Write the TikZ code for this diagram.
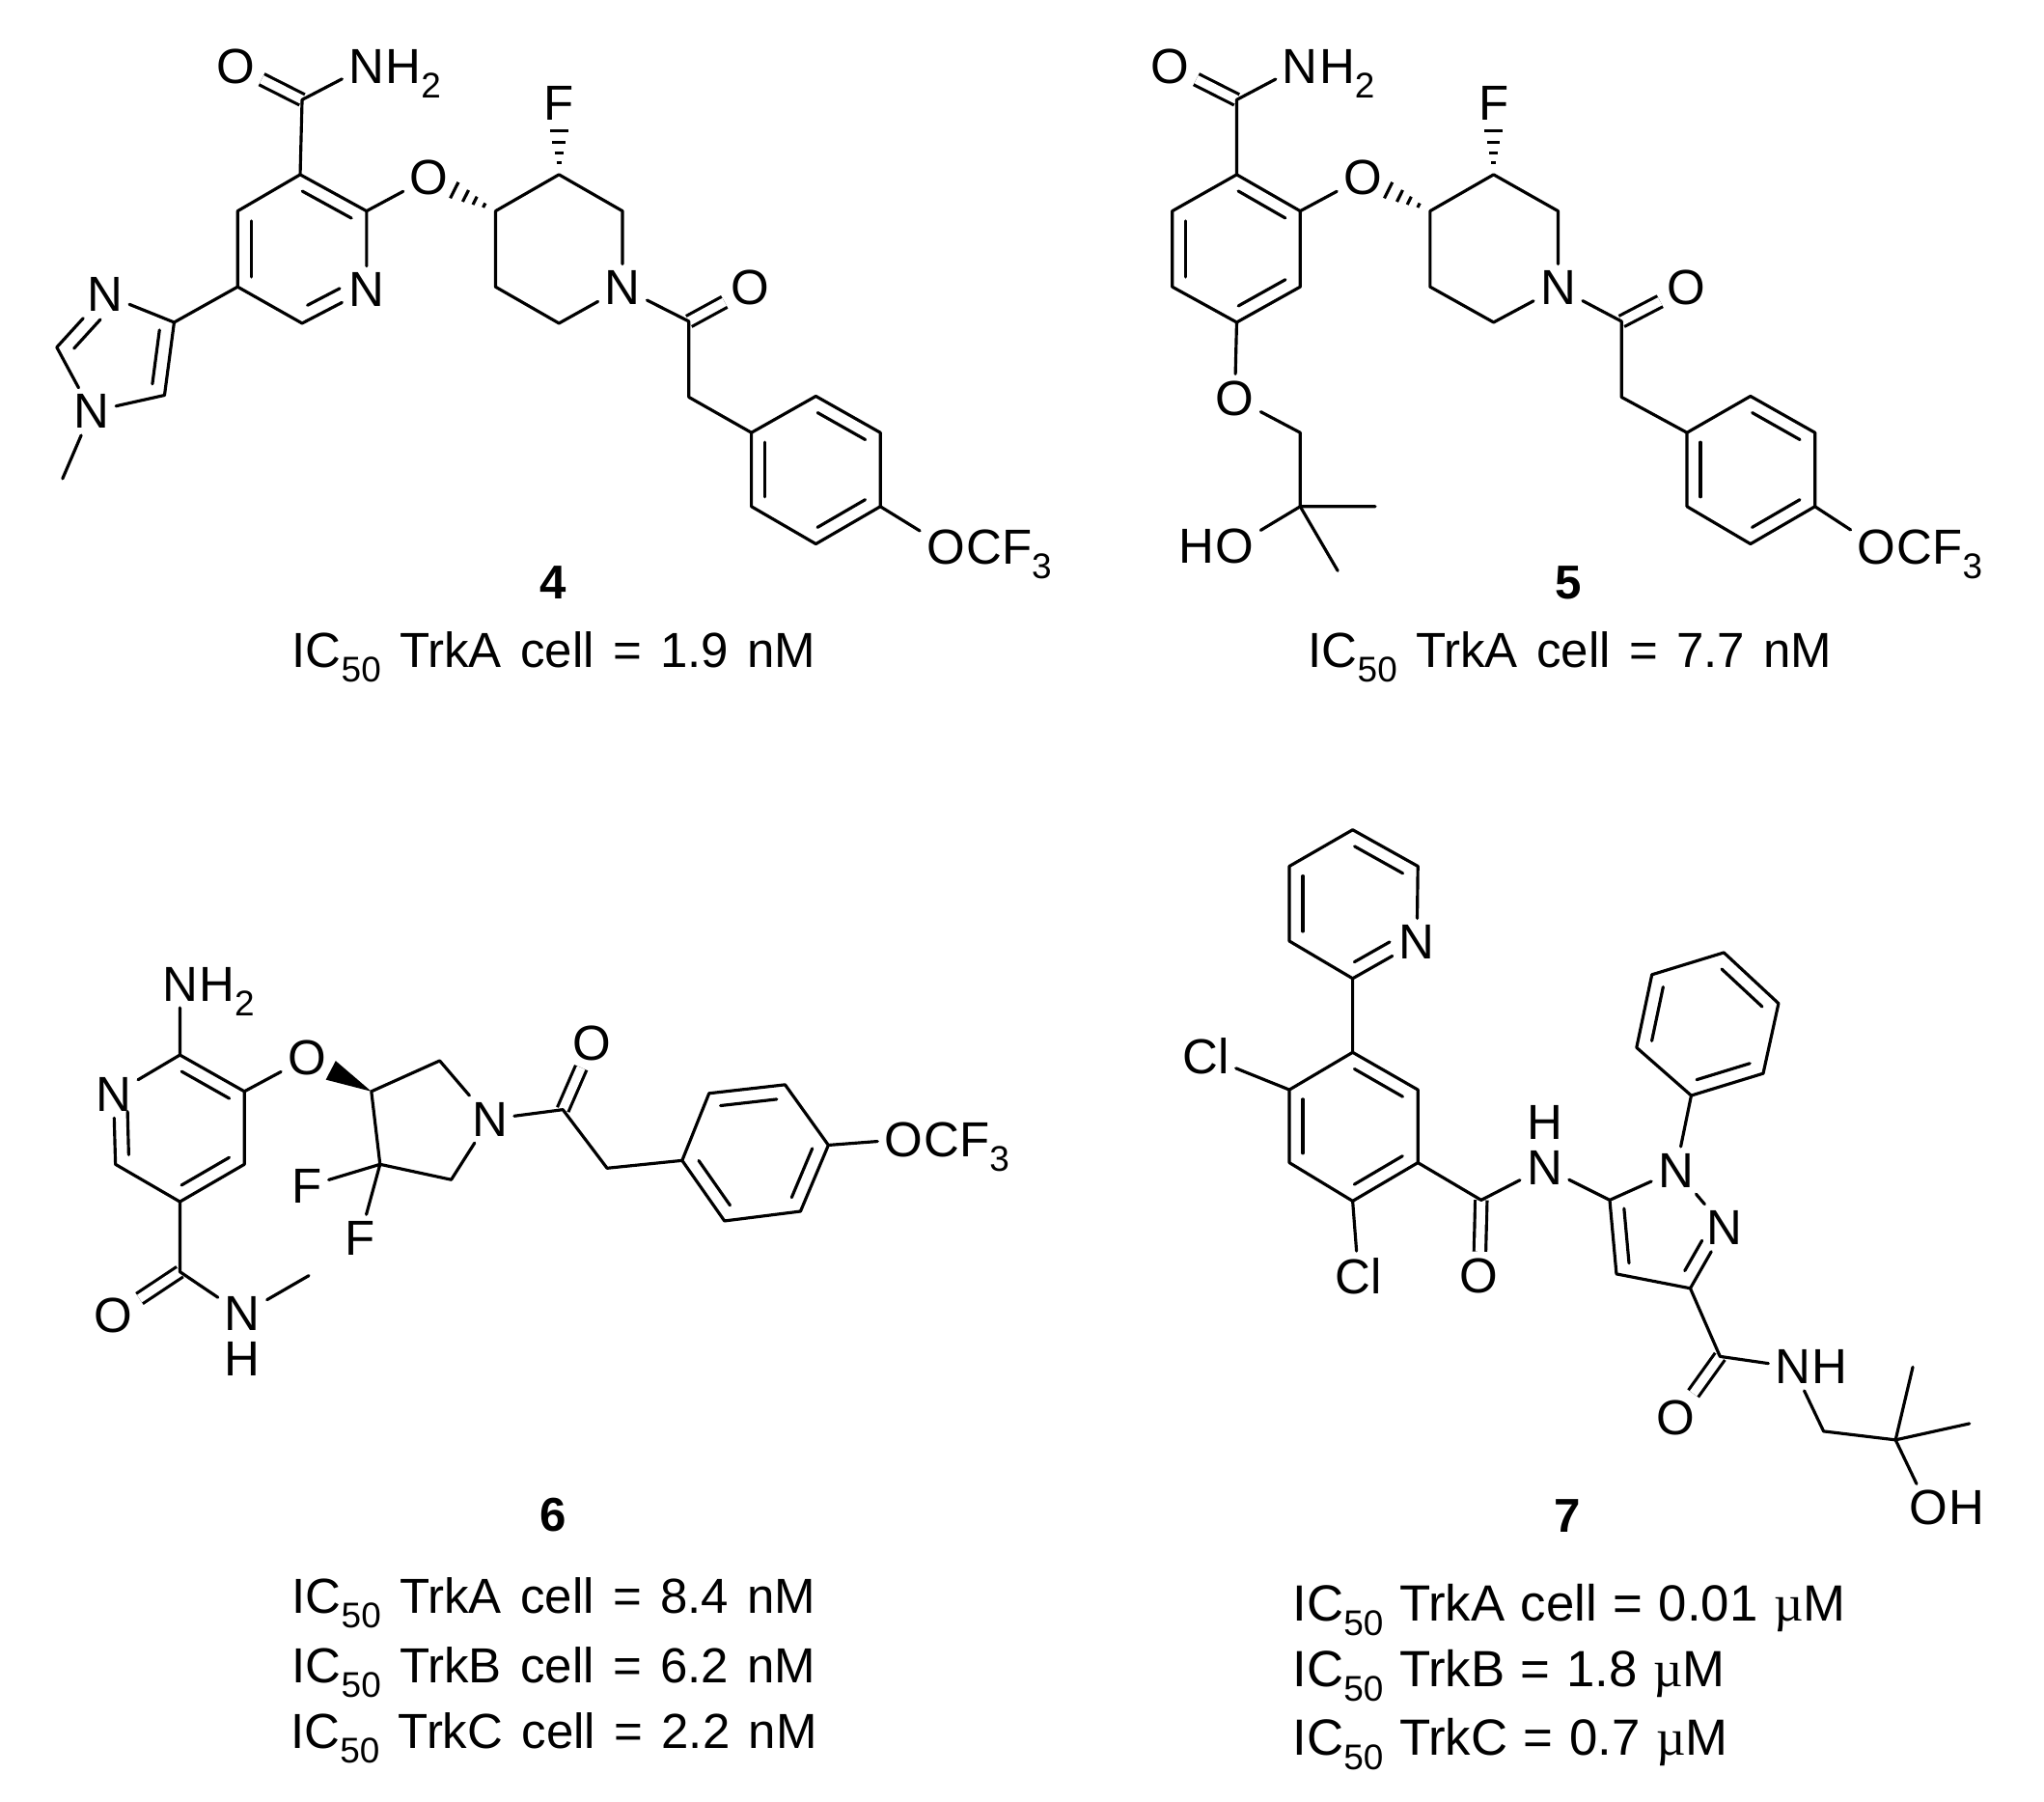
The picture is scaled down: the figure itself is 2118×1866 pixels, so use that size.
\documentclass[tikz,border=0pt]{standalone}
\usepackage{fontspec}
\setmainfont{Liberation Sans}
\newfontfamily\muserif{Liberation Serif}
\usetikzlibrary{calc}

\newcommand{\dbloff}{1.4mm}
\newcommand{\lowsub}[2]{\raisebox{-.3em}{\fontsize{#1}{#1}\selectfont #2}}
\newcommand{\atomsub}[1]{\lowsub{10.5}{#1}}
\newcommand{\capsub}[1]{\lowsub{10.5}{#1}}
\newcommand{\capfont}{\fontsize{14.5}{17}\selectfont\spaceskip 5.5pt\relax}
\newcommand{\bigcapfont}{\fontsize{15}{18}\selectfont\spaceskip 4.7pt\relax}

\tikzset{
	bond/.style={line width=.9pt, line cap=round, line join=round},
	dblbond/.style={line width=.9pt, double, double distance=2.6pt},
	hash/.style={line width=.9pt},
	atom/.style={inner sep=1.8pt, font=\fontsize{14.5}{16}\selectfont},
	tail/.style={inner sep=0pt, anchor=base west, xshift=-1.8pt, font=\fontsize{14.5}{16}\selectfont},
	head/.style={inner sep=0pt, anchor=base east, xshift=1.8pt, font=\fontsize{14.5}{16}\selectfont},
	cpdnum/.style={inner sep=0pt, anchor=base, font=\fontsize{14}{16}\selectfont\bfseries},
	caption/.style={inner sep=0pt, anchor=base, font=\capfont},
	bigcaption/.style={inner sep=0pt, anchor=base west, font=\bigcapfont},
	drawing/.style={x=.00996cm, y=-.00994cm}
}

% parallel stroke on the left of a -> b
\newcommand{\innerpart}[4]{\draw[bond] ($(#1)!#3!(#2)!\dbloff!90:(#2)$) -- ($(#1)!#4!(#2)!\dbloff!90:(#2)$);}
\newcommand{\innerbond}[2]{\innerpart{#1}{#2}{.13}{.87}}
\newcommand{\hashbond}[2]{\foreach \hs in {.17,.31,.45,.62} \draw[hash] ($(#1)!\hs!(#2)!\hs*1.5mm!90:(#2)$) -- ($(#1)!\hs!(#2)!-\hs*1.5mm!90:(#2)$);}
\newcommand{\wedgebond}[2]{\fill ($(#1)$) -- ($(#2)!.37!(#1)!1.1mm!90:(#1)$) -- ($(#2)!.37!(#1)!-1.1mm!90:(#1)$) -- cycle;}

\begin{document}
\begin{tikzpicture}[x=.01cm, y=-.01cm]
	\useasboundingbox (0,0) rectangle (2118,1866);

	% compound 4
	\begin{scope}[drawing]
	\node [atom] (o4a) at (245,69) {O};
	\node [atom] (n4a) at (381,69) {N};
	\node [tail] (h4a) at (n4a.base east) {H\atomsub{2}};
	\coordinate (co4a) at (314,104);
	\coordinate (py4a) at (312,182);
	\coordinate (py4b) at (381,220);
	\node [atom] (py4n) at (381,302) {N};
	\coordinate (py4d) at (314,337);
	\coordinate (py4e) at (247,299);
	\coordinate (py4f) at (247,220);
	\node [atom] (o4b) at (446,185) {O};
	\coordinate (pip4a) at (515,220);
	\coordinate (pip4b) at (581,182);
	\node [atom] (f4a) at (581,108) {F};
	\coordinate (pip4c) at (647,220);
	\node [atom] (pip4n) at (647,300) {N};
	\coordinate (pip4d) at (581,337);
	\coordinate (pip4e) at (515,299);
	\coordinate (co4b) at (716,335);
	\node [atom] (o4c) at (780,300) {O};
	\coordinate (ch4a) at (716,414);
	\coordinate (ph4a) at (781,451);
	\coordinate (ph4b) at (781,528);
	\coordinate (ph4c) at (848,567);
	\coordinate (ph4d) at (915,528);
	\coordinate (ph4e) at (915,451);
	\coordinate (ph4f) at (848,413);
	\node [atom] (o4d) at (983,570) {O};
	\node [tail] (cf4a) at (o4d.base east) {CF\atomsub{3}};
	\coordinate (im4a) at (181,336);
	\node [atom] (im4n) at (109,307) {N};
	\coordinate (im4b) at (59,362);
	\node [atom] (im4m) at (95,429) {N};
	\coordinate (im4c) at (171,412);
	\coordinate (me4a) at (65,499);

	\draw [dblbond] (co4a) -- (o4a);
	\draw [dblbond] (co4b) -- (o4c);
	\draw [bond] (n4a) -- (co4a) -- (py4a) -- (py4b) -- (py4n) -- (py4d) -- (py4e) -- (py4f) -- (py4a);
	\draw [bond] (py4b) -- (o4b);
	\draw [bond] (pip4a) -- (pip4b) -- (pip4c) -- (pip4n) -- (pip4d) -- (pip4e) -- (pip4a);
	\draw [bond] (pip4n) -- (co4b) -- (ch4a) -- (ph4a) -- (ph4b) -- (ph4c) -- (ph4d) -- (ph4e) -- (ph4f) -- (ph4a);
	\draw [bond] (ph4d) -- (o4d);
	\draw [bond] (py4e) -- (im4a) -- (im4n) -- (im4b) -- (im4m) -- (im4c) -- (im4a);
	\draw [bond] (im4m) -- (me4a);
	\innerbond{py4b}{py4a}
	\innerbond{py4f}{py4e}
	\innerpart{py4d}{py4n}{.18}{.68}
	\innerbond{ph4a}{ph4b}
	\innerbond{ph4c}{ph4d}
	\innerbond{ph4e}{ph4f}
	\innerpart{im4n}{im4b}{.3}{.85}
	\innerbond{im4c}{im4a}
	\hashbond{pip4b}{f4a}
	\hashbond{pip4a}{o4b}
	\end{scope}
	\node [cpdnum] (num4) at (573,620) {4};
	\node [caption] (cap4) at (574,691) {IC\capsub{50} TrkA cell = 1.9 nM};

	% compound 5
	\begin{scope}[shift={(4.4,0)}, drawing]
	\node [atom] (o5a) at (1212,69) {O};
	\node [atom] (n5a) at (1347,69) {N};
	\node [tail] (h5a) at (n5a.base east) {H\atomsub{2}};
	\coordinate (co5a) at (1281,104);
	\coordinate (ar5a) at (1281,182);
	\coordinate (ar5b) at (1214,220);
	\coordinate (ar5c) at (1214,299);
	\coordinate (ar5d) at (1281,336);
	\coordinate (ar5e) at (1347,299);
	\coordinate (ar5f) at (1347,220);
	\node [atom] (o5b) at (1412,185) {O};
	\node [atom] (o5e) at (1279,415) {O};
	\coordinate (ch5b) at (1347,451);
	\coordinate (cq5) at (1347,528);
	\coordinate (me5a) at (1425,528);
	\coordinate (me5b) at (1386,595);
	\node [atom] (o5f) at (1279,569) {O};
	\node [head] (h5f) at (o5f.base west) {H};
	\coordinate (pip5a) at (1482,220);
	\coordinate (pip5b) at (1548,182);
	\node [atom] (f5a) at (1548,108) {F};
	\coordinate (pip5c) at (1615,220);
	\node [atom] (pip5n) at (1615,300) {N};
	\coordinate (pip5d) at (1548,336);
	\coordinate (pip5e) at (1482,299);
	\coordinate (co5b) at (1681,335);
	\node [atom] (o5c) at (1748,300) {O};
	\coordinate (ch5a) at (1681,414);
	\coordinate (ph5a) at (1749,451);
	\coordinate (ph5b) at (1749,528);
	\coordinate (ph5c) at (1815,567);
	\coordinate (ph5d) at (1882,528);
	\coordinate (ph5e) at (1882,451);
	\coordinate (ph5f) at (1815,413);
	\node [atom] (o5d) at (1946,570) {O};
	\node [tail] (cf5a) at (o5d.base east) {CF\atomsub{3}};

	\draw [dblbond] (co5a) -- (o5a);
	\draw [dblbond] (co5b) -- (o5c);
	\draw [bond] (n5a) -- (co5a) -- (ar5a) -- (ar5b) -- (ar5c) -- (ar5d) -- (ar5e) -- (ar5f) -- (ar5a);
	\draw [bond] (ar5f) -- (o5b);
	\draw [bond] (ar5d) -- (o5e) -- (ch5b) -- (cq5) -- (me5a);
	\draw [bond] (cq5) -- (me5b);
	\draw [bond] (cq5) -- (o5f);
	\draw [bond] (pip5a) -- (pip5b) -- (pip5c) -- (pip5n) -- (pip5d) -- (pip5e) -- (pip5a);
	\draw [bond] (pip5n) -- (co5b) -- (ch5a) -- (ph5a) -- (ph5b) -- (ph5c) -- (ph5d) -- (ph5e) -- (ph5f) -- (ph5a);
	\draw [bond] (ph5d) -- (o5d);
	\innerbond{ar5f}{ar5a}
	\innerbond{ar5b}{ar5c}
	\innerbond{ar5d}{ar5e}
	\innerbond{ph5a}{ph5b}
	\innerbond{ph5c}{ph5d}
	\innerbond{ph5e}{ph5f}
	\hashbond{pip5b}{f5a}
	\hashbond{pip5a}{o5b}
	\end{scope}
	\node [cpdnum] (num5) at (1625,620) {5};
	\node [caption] (cap5) at (1627,691) {IC\capsub{50} TrkA cell = 7.7 nM};

	% compound 6
	\begin{scope}[shift={(0,5.7)}, drawing]
	\node [atom] (n6a) at (187,1020) {N};
	\node [tail] (h6a) at (n6a.base east) {H\atomsub{2}};
	\coordinate (py6a) at (187,1094);
	\node [atom] (py6n) at (118,1135) {N};
	\coordinate (py6b) at (120,1208);
	\coordinate (py6c) at (187,1247);
	\coordinate (py6d) at (254,1208);
	\coordinate (py6e) at (254,1132);
	\node [atom] (o6a) at (319,1097) {O};
	\coordinate (pyr6a) at (386,1132);
	\coordinate (pyr6b) at (457,1100);
	\node [atom] (pyr6n) at (509,1161) {N};
	\coordinate (pyr6c) at (469,1224);
	\coordinate (pyr6d) at (395,1208);
	\node [atom] (f6a) at (319,1231) {F};
	\node [atom] (f6b) at (374,1285) {F};
	\coordinate (co6a) at (585,1151);
	\node [atom] (o6b) at (615,1082) {O};
	\coordinate (ch6a) at (631,1212);
	\coordinate (ph6a) at (709,1204);
	\coordinate (ph6b) at (753,1267);
	\coordinate (ph6c) at (832,1257);
	\coordinate (ph6d) at (861,1188);
	\coordinate (ph6e) at (816,1125);
	\coordinate (ph6f) at (737,1134);
	\node [atom] (o6c) at (939,1182) {O};
	\node [tail] (cf6a) at (o6c.base east) {CF\atomsub{3}};
	\coordinate (co6b) at (187,1320);
	\node [atom] (o6d) at (118,1366) {O};
	\node [atom] (n6b) at (252,1364) {N};
	\node [atom] (h6b) at (252,1411) {H};
	\coordinate (me6a) at (321,1324);

	\draw [dblbond] (co6a) -- (o6b);
	\draw [dblbond] (co6b) -- (o6d);
	\draw [bond] (n6a) -- (py6a) -- (py6n) -- (py6b) -- (py6c) -- (py6d) -- (py6e) -- (py6a);
	\draw [bond] (py6e) -- (o6a);
	\draw [bond] (pyr6a) -- (pyr6b) -- (pyr6n) -- (pyr6c) -- (pyr6d) -- (pyr6a);
	\draw [bond] (pyr6d) -- (f6a);
	\draw [bond] (pyr6d) -- (f6b);
	\draw [bond] (pyr6n) -- (co6a) -- (ch6a) -- (ph6a) -- (ph6b) -- (ph6c) -- (ph6d) -- (ph6e) -- (ph6f) -- (ph6a);
	\draw [bond] (ph6d) -- (o6c);
	\draw [bond] (py6c) -- (co6b) -- (n6b) -- (me6a);
	\innerpart{py6n}{py6b}{.25}{.87}
	\innerbond{py6c}{py6d}
	\innerbond{py6e}{py6a}
	\innerbond{ph6a}{ph6b}
	\innerbond{ph6c}{ph6d}
	\innerbond{ph6e}{ph6f}
	\wedgebond{pyr6a}{o6a}
	\end{scope}
	\node [cpdnum] (num6) at (573,1586) {6};
	\node [caption] (cap6a) at (574,1671) {IC\capsub{50} TrkA cell = 8.4 nM};
	\node [caption] (cap6b) at (574,1743) {IC\capsub{50} TrkB cell = 6.2 nM};
	\node [caption] (cap6c) at (574,1811) {IC\capsub{50} TrkC cell = 2.2 nM};

	% compound 7
	\begin{scope}[shift={(7.2,4.98)}, drawing, x=.00994cm]
	\coordinate (py7a) at (1403,1015);
	\node [atom] (py7n) at (1470,977) {N};
	\coordinate (py7b) at (1471,898);
	\coordinate (py7c) at (1403,860);
	\coordinate (py7d) at (1337,898);
	\coordinate (py7e) at (1337,976);
	\coordinate (ar7a) at (1403,1092);
	\coordinate (ar7b) at (1337,1131);
	\coordinate (ar7c) at (1337,1207);
	\coordinate (ar7d) at (1403,1247);
	\coordinate (ar7e) at (1471,1207);
	\coordinate (ar7f) at (1471,1131);
	\node [atom] (cl7a) at (1250,1096) {Cl};
	\node [atom] (cl7b) at (1409,1325) {Cl};
	\coordinate (co7a) at (1537,1246);
	\node [atom] (o7a) at (1535,1325) {O};
	\node [atom] (n7a) at (1603,1212) {N};
	\node [atom] (h7a) at (1603,1165) {H};
	\coordinate (pz7a) at (1671,1246);
	\node [atom] (pz7n) at (1740,1215) {N};
	\node [atom] (pz7m) at (1791,1275) {N};
	\coordinate (pz7b) at (1755,1338);
	\coordinate (pz7c) at (1678,1323);
	\coordinate (ph7a) at (1756,1137);
	\coordinate (ph7b) at (1831,1114);
	\coordinate (ph7c) at (1847,1041);
	\coordinate (ph7d) at (1790,988);
	\coordinate (ph7e) at (1715,1011);
	\coordinate (ph7f) at (1699,1087);
	\coordinate (co7b) at (1786,1409);
	\node [atom] (o7b) at (1740,1473) {O};
	\node [atom] (n7b) at (1862,1420) {N};
	\node [tail] (h7b) at (n7b.base east) {H};
	\coordinate (ch7a) at (1894,1487);
	\coordinate (cq7) at (1969,1496);
	\coordinate (me7a) at (1987,1420);
	\coordinate (me7b) at (2046,1479);
	\node [atom] (o7c) at (2003,1567) {O};
	\node [tail] (h7c) at (o7c.base east) {H};

	\draw [dblbond] (co7a) -- (o7a);
	\draw [dblbond] (co7b) -- (o7b);
	\draw [bond] (py7a) -- (py7n) -- (py7b) -- (py7c) -- (py7d) -- (py7e) -- (py7a) -- (ar7a);
	\draw [bond] (ar7a) -- (ar7b) -- (ar7c) -- (ar7d) -- (ar7e) -- (ar7f) -- (ar7a);
	\draw [bond] (ar7b) -- (cl7a);
	\draw [bond] (ar7d) -- (cl7b);
	\draw [bond] (ar7e) -- (co7a) -- (n7a) -- (pz7a) -- (pz7c) -- (pz7b) -- (pz7m) -- (pz7n) -- (pz7a);
	\draw [bond] (pz7n) -- (ph7a) -- (ph7b) -- (ph7c) -- (ph7d) -- (ph7e) -- (ph7f) -- (ph7a);
	\draw [bond] (pz7b) -- (co7b) -- (n7b) -- (ch7a) -- (cq7) -- (me7a);
	\draw [bond] (cq7) -- (me7b);
	\draw [bond] (cq7) -- (o7c);
	\innerpart{py7a}{py7n}{.13}{.68}
	\innerbond{py7b}{py7c}
	\innerbond{py7d}{py7e}
	\innerbond{ar7b}{ar7c}
	\innerbond{ar7d}{ar7e}
	\innerbond{ar7f}{ar7a}
	\innerbond{pz7a}{pz7c}
	\innerpart{pz7b}{pz7m}{.18}{.68}
	\innerbond{ph7a}{ph7b}
	\innerbond{ph7c}{ph7d}
	\innerbond{ph7e}{ph7f}
	\end{scope}
	\node [cpdnum] (num7) at (1624,1587) {7};
	\node [bigcaption] (cap7a) at (1339,1679) {IC\capsub{50} TrkA cell = 0.01 {\muserif µ}M};
	\node [bigcaption] (cap7b) at (1339,1747) {IC\capsub{50} TrkB = 1.8 {\muserif µ}M};
	\node [bigcaption] (cap7c) at (1339,1818) {IC\capsub{50} TrkC = 0.7 {\muserif µ}M};
\end{tikzpicture}
\end{document}
